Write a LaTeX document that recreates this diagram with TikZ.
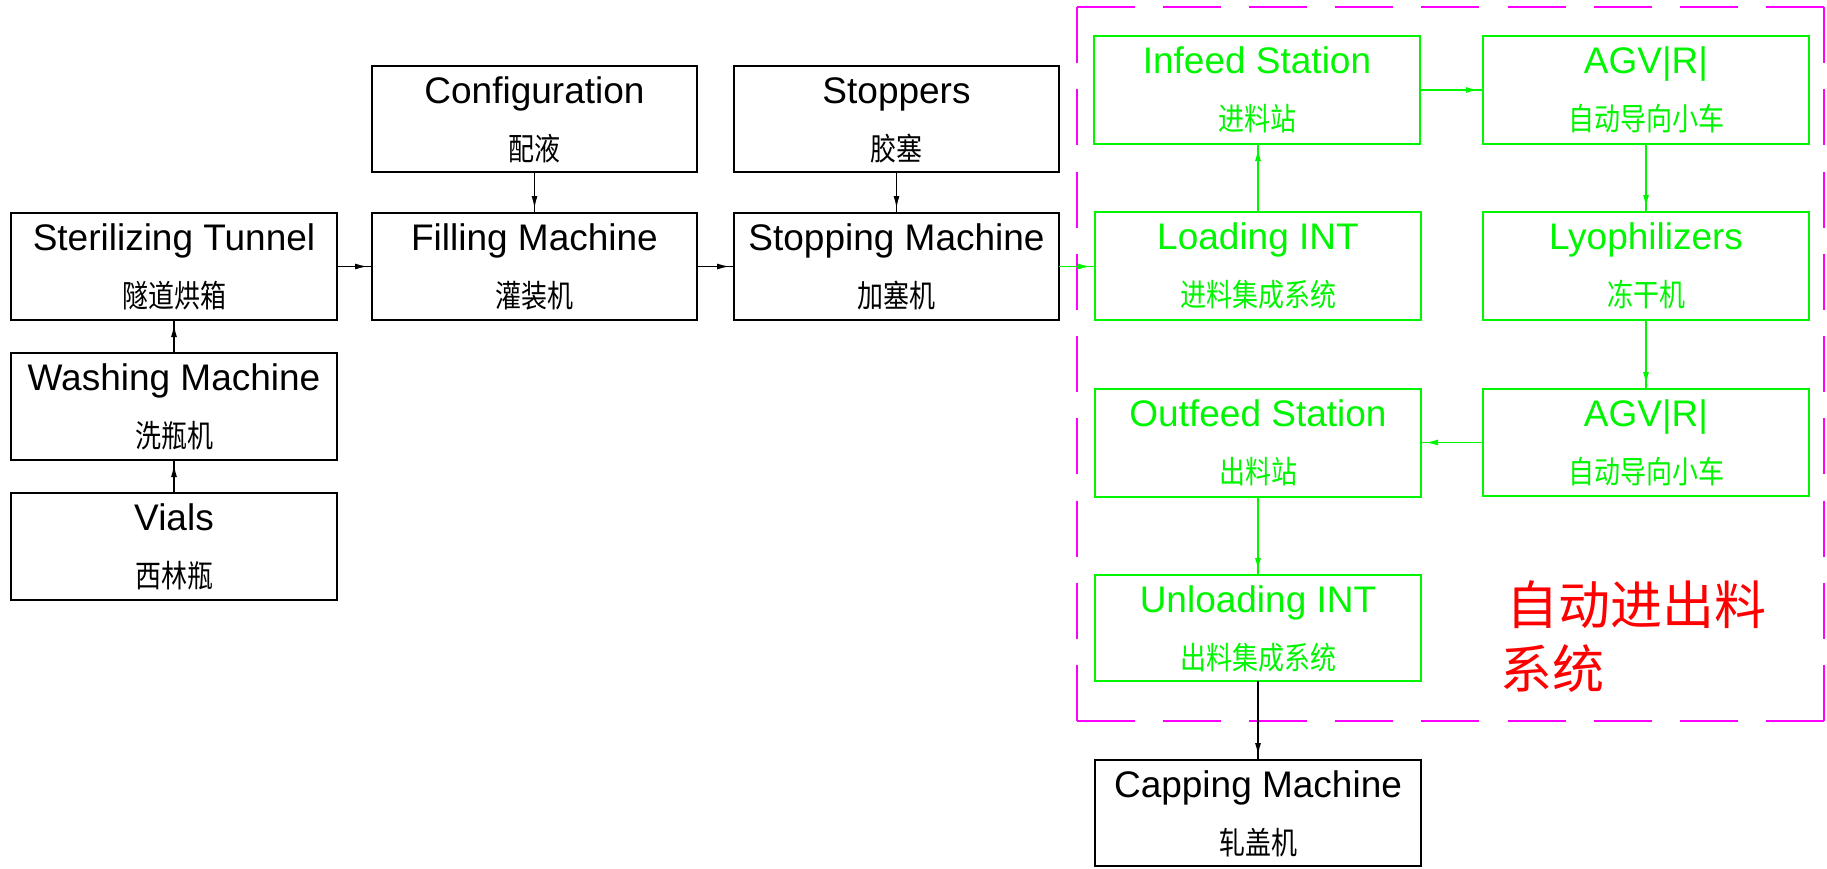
\documentclass[tikz,border=0pt]{standalone}
\usepackage{fontspec}
\setmainfont{Liberation Sans}
\newfontfamily\cjk{Noto Sans CJK SC}
\usetikzlibrary{arrows.meta,decorations.markings}
\definecolor{cadgreen}{RGB}{0,245,0}
\definecolor{cadmag}{RGB}{255,0,255}
\definecolor{cadred}{RGB}{255,0,0}
\tikzset{
  boxs/.style={line width=1.8pt, inner sep=0pt, outer sep=0pt},
  entext/.style={anchor=base, inner sep=0pt, font=\fontsize{37}{40}\selectfont},
  cntext/.style={anchor=base, inner sep=0pt, font=\cjk\fontsize{26}{30}\selectfont},
  flow/.style={line width=1.8pt, decoration={markings, mark=at position -4pt with {\arrow{Latex[length=13pt,width=6pt]}}}, postaction={decorate}},
  redtxt/.style={anchor=base west, inner sep=0pt, text=cadred, font=\cjk\fontsize{52}{60}\selectfont},
  zoneh/.style={draw=cadmag, line width=1.8pt, dash pattern=on 58pt off 28.1pt},
  zonev/.style={draw=cadmag, line width=1.8pt, dash pattern=on 56pt off 26.25pt},
}
\newcommand\procbox[7]{%
  \node[boxs, draw=#6, minimum width=#4pt-#2pt, minimum height=#5pt-#3pt] (#1) at ({(#2+#4)/2},{(#3+#5)/2}) {};
  \node[entext, text=#6] (#1-en) at ([yshift=-37pt]#1.north) {#7};
}
\newcommand\cnlabel[3]{%
  \node[cntext, text=#2] (#1-cn) at ([yshift=-94pt]#1.north) {\scalebox{1}[1.2]{#3}};
}
\begin{document}
\begin{tikzpicture}[x=1pt,y=-1pt]
\fill[white] (0,0) rectangle (1827,868);
\useasboundingbox (0,0) rectangle (1827,868);
% left column
\procbox{ster}{11}{213}{337}{320}{black}{Sterilizing Tunnel}
\cnlabel{ster}{black}{隧道烘箱}
\procbox{wash}{11}{353}{337}{460}{black}{Washing Machine}
\cnlabel{wash}{black}{洗瓶机}
\procbox{vials}{11}{493}{337}{600}{black}{Vials}
\cnlabel{vials}{black}{西林瓶}
% middle
\procbox{conf}{372}{66}{697}{172}{black}{Configuration}
\cnlabel{conf}{black}{配液}
\procbox{fill}{372}{213}{697}{320}{black}{Filling Machine}
\cnlabel{fill}{black}{灌装机}
\procbox{stopp}{734}{66}{1059}{172}{black}{Stoppers}
\cnlabel{stopp}{black}{胶塞}
\procbox{stopm}{734}{213}{1059}{320}{black}{Stopping Machine}
\cnlabel{stopm}{black}{加塞机}
% automatic loading system frame
\coordinate (ztl) at (1077,7);
\coordinate (ztr) at (1824,7);
\coordinate (zbr) at (1824,721);
\coordinate (zbl) at (1077,721);
\draw[zoneh] (ztl) -- (ztr);
\draw[zoneh] (zbl) -- (zbr);
\draw[zonev] (ztl) -- (zbl);
\draw[zonev] (ztr) -- (zbr);
\procbox{infeed}{1094}{36}{1420}{144}{cadgreen}{Infeed Station}
\cnlabel{infeed}{cadgreen}{进料站}
\procbox{agva}{1483}{36}{1809}{144}{cadgreen}{AGV|R|}
\cnlabel{agva}{cadgreen}{自动导向小车}
\procbox{loading}{1095}{212}{1421}{320}{cadgreen}{Loading INT}
\cnlabel{loading}{cadgreen}{进料集成系统}
\procbox{lyo}{1483}{212}{1809}{320}{cadgreen}{Lyophilizers}
\cnlabel{lyo}{cadgreen}{冻干机}
\procbox{outfeed}{1095}{389}{1421}{497}{cadgreen}{Outfeed Station}
\cnlabel{outfeed}{cadgreen}{出料站}
\procbox{agvb}{1483}{389}{1809}{496}{cadgreen}{AGV|R|}
\cnlabel{agvb}{cadgreen}{自动导向小车}
\procbox{unload}{1095}{575}{1421}{681}{cadgreen}{Unloading INT}
\cnlabel{unload}{cadgreen}{出料集成系统}
\procbox{capping}{1095}{760}{1421}{866}{black}{Capping Machine}
\cnlabel{capping}{black}{轧盖机}
\node[redtxt] (sysa) at (1506,624) {自动进出料};
\node[redtxt] (sysb) at (1500,688) {系统};
% connectors
\draw[flow] (vials.north) -- (wash.south);
\draw[flow] (wash.north) -- (ster.south);
\draw[flow] (ster.east) -- (ster.east -| fill.west);
\draw[flow] (conf.south) -- (fill.north);
\draw[flow] (fill.east) -- (stopm.west);
\draw[flow] (stopp.south) -- (stopm.north);
\draw[flow, draw=cadgreen, fill=cadgreen] (stopm.east) -- (stopm.east -| loading.west);
\draw[flow, draw=cadgreen, fill=cadgreen] (loading.north) -- (loading.north |- infeed.south);
\draw[flow, draw=cadgreen, fill=cadgreen] (infeed.east) -- (infeed.east -| agva.west);
\draw[flow, draw=cadgreen, fill=cadgreen] (agva.south) -- (agva.south |- lyo.north);
\draw[flow, draw=cadgreen, fill=cadgreen] (lyo.south) -- (lyo.south |- agvb.north);
\draw[flow, draw=cadgreen, fill=cadgreen] (agvb.west) -- (agvb.west -| outfeed.east);
\draw[flow, draw=cadgreen, fill=cadgreen] (outfeed.south) -- (outfeed.south |- unload.north);
\draw[flow] (unload.south) -- (capping.north);
\end{tikzpicture}
\end{document}
